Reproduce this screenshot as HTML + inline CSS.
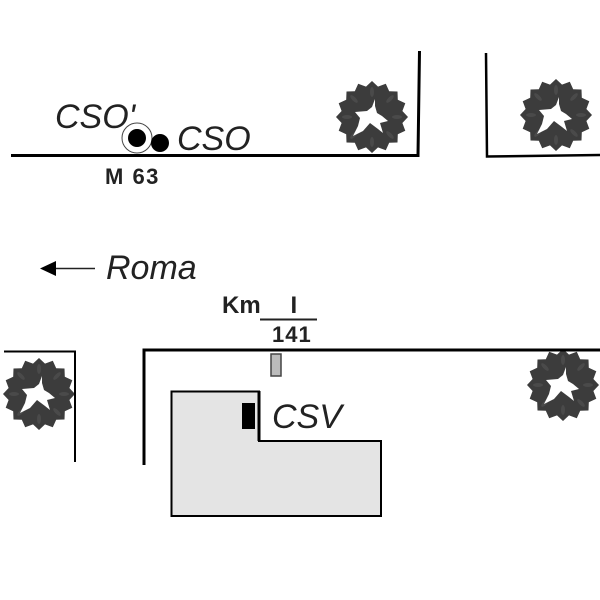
<!DOCTYPE html>
<html><head><meta charset="utf-8"><style>html,body{margin:0;padding:0;background:#fff}svg{display:block}text{font-family:"Liberation Sans",sans-serif;fill:#222}.i{font-style:italic;font-size:34px}.b{font-weight:bold;font-size:20px}</style></head>
<body><svg width="600" height="600" viewBox="0 0 600 600">
<defs><g id="w"><polygon fill="#3c3c3c" points="36,0 30.400,6 33.300,13.800 25.800,17.200 25.500,25.500 17.200,25.800 13.800,33.300 6,30.400 0,36 -6,30.400 -13.800,33.300 -17.200,25.800 -25.500,25.500 -25.800,17.200 -33.300,13.800 -30.400,6 -36,0 -30.400,-6 -33.300,-13.800 -25.800,-17.200 -25.500,-25.500 -17.200,-25.800 -13.800,-33.300 -6,-30.400 0,-36 6,-30.400 13.800,-33.300 17.200,-25.800 25.500,-25.500 25.800,-17.200 33.300,-13.800 30.400,-6"/>
<g fill="#4a4a4a"><ellipse cx="0" cy="-25" rx="2" ry="5"/><ellipse cx="0" cy="25" rx="2" ry="5"/><ellipse cx="25" cy="0" rx="5" ry="2"/><ellipse cx="-25" cy="0" rx="5" ry="2"/><ellipse cx="18" cy="18" rx="5" ry="2" transform="rotate(45 18 18)"/><ellipse cx="-18" cy="-18" rx="5" ry="2" transform="rotate(45 -18 -18)"/><ellipse cx="18" cy="-18" rx="5" ry="2" transform="rotate(-45 18 -18)"/><ellipse cx="-18" cy="18" rx="5" ry="2" transform="rotate(-45 -18 18)"/></g>
<polygon fill="#fff" points="3,-18 0,-10 -5,-6 -17,-5 -12,1 -14,9 -19,19 -9,14 -2,6 6,12 11,16 8,6 16,4 10,-1 5,-4 3,-11"/></g></defs>
<rect width="600" height="600" fill="#fff"/>
<use href="#w" x="372" y="117"/><use href="#w" x="556" y="115"/>
<use href="#w" x="39" y="394"/><use href="#w" x="563" y="385"/>
<g fill="none" stroke="#000">
<path d="M11 155.500H418L419.500 51" stroke-width="3"/>
<path d="M486 53L487 156.500L600 155" stroke-width="2.500"/>
<path d="M4 351.500H75V462" stroke-width="2"/>
<path d="M144 465V350H600" stroke-width="3"/>
<path d="M171.500 391.500H259V441H381V516H171.500Z" fill="#e4e4e4" stroke-width="2"/>
<path d="M259 391V441" stroke-width="3"/>
<circle cx="137" cy="138" r="15" stroke="#444" stroke-width="1"/>
<path d="M55 268.500H95" stroke="#222" stroke-width="1.500"/>
<path d="M260 319.500H317" stroke="#222" stroke-width="2"/>
</g>
<circle cx="137" cy="138" r="9"/><circle cx="160" cy="143" r="9"/>
<polygon points="40,268.500 56,261 56,276"/>
<rect x="242" y="403" width="13" height="26"/>
<rect x="271" y="354" width="10" height="22" fill="#bbb" stroke="#444" stroke-width="1.500"/>
<text class="i" x="55" y="128">CSO'</text>
<text class="i" x="177" y="150">CSO</text>
<text class="i" x="106" y="279">Roma</text>
<text class="i" x="272" y="428">CSV</text>
<text class="b" x="105" y="184" style="font-size:22px;letter-spacing:1.500px">M 63</text>
<text class="b" x="222" y="313" style="font-size:24px">Km</text>
<text class="b" x="290.500" y="313" style="font-size:24px">I</text>
<text class="b" x="272" y="342" style="font-size:22px;letter-spacing:1px">141</text>
</svg></body></html>
